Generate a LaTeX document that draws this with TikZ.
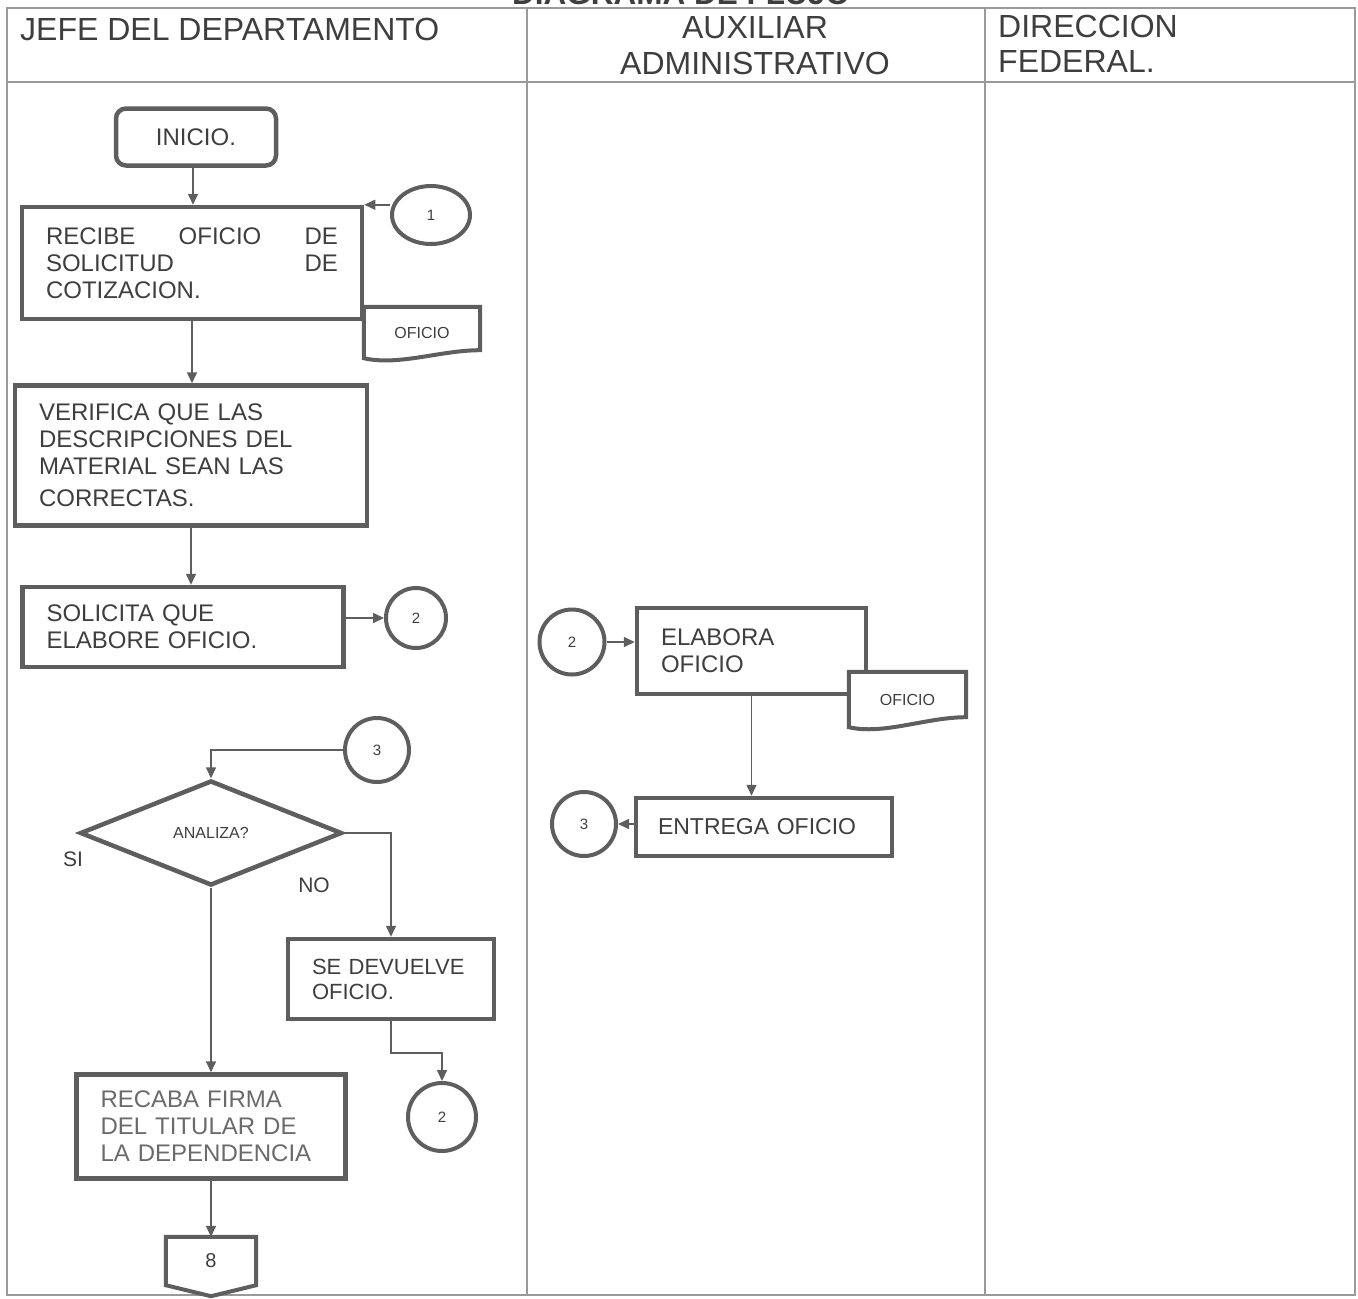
\documentclass[tikz,border=0pt]{standalone}
\usepackage{fontspec}
\setmainfont{Liberation Sans}
\usetikzlibrary{shapes.geometric,arrows.meta,calc}
\pgfdeclarelayer{fg}
\pgfsetlayers{main,fg}
\definecolor{shp}{HTML}{5E5E5E}
\definecolor{txt}{HTML}{3E3E3E}
\definecolor{ltxt}{HTML}{6A6A6A}
\definecolor{frm}{HTML}{9A9A9A}
\newcommand{\fsz}[2]{\fontsize{#1}{#2}\selectfont\hyphenpenalty=10000\exhyphenpenalty=10000 }
\begin{document}
\begin{tikzpicture}[x=1pt,y=-1pt,
  proc/.style={draw=shp, line width=4.5pt, rectangle, align=left, inner xsep=24pt, inner ysep=0pt, text=txt, font=\fsz{24}{27}},
  conn/.style={draw=shp, line width=1.6pt, -{Triangle[length=11pt,width=10pt]}},
  circ/.style={draw=shp, line width=4pt, circle, inner sep=0pt, text=txt, font=\fsz{15}{18}},
  docnode/.style={rectangle, inner sep=0pt, text=txt, font=\fsz{16}{18}},
  docline/.style={draw=shp, line width=4pt, fill=white},
  lane/.style={draw=frm, line width=1.6pt},
  hdr/.style={text=txt, font=\fsz{32}{35}, inner sep=0pt, anchor=base},
  lbl/.style={text=txt, font=\fsz{21}{24}, inner sep=0pt},
]
\useasboundingbox (0,0) rectangle (1358,1299);
\clip (0,0) rectangle (1358,1299);

% title (cut off at top, as in the scan)
\node[text=txt, font=\bfseries\fsz{31.5}{34}, inner sep=0pt, anchor=base] (title) at (681,4.5) {DIAGRAMA DE FLUJO};

% lanes
\draw[lane] (7,8) rectangle (1355,1295);
\draw[lane] (7,82) -- (1355,82);
\draw[lane] (527,8) -- (527,1295);
\draw[lane] (985,8) -- (985,1295);

% headers
\node[hdr, anchor=base west] (h1) at (20,40) {JEFE DEL DEPARTAMENTO};
\node[hdr] (h2a) at (755,38) {AUXILIAR};
\node[hdr] (h2b) at (755,74) {ADMINISTRATIVO};
\node[hdr, anchor=base west] (h3a) at (998,37) {DIRECCION};
\node[hdr, anchor=base west] (h3b) at (998,72) {FEDERAL.};

% lane 1
\node[draw=shp, line width=4.5pt, rounded corners=10pt, minimum width=160, minimum height=57, inner sep=0pt, text=txt, font=\fsz{24}{27}] (inicio) at (196,137) {INICIO.};

\node[proc, text width=292pt, minimum height=112] (recibe) at (192,263)
  {RECIBE\hfill OFICIO\hfill DE\\SOLICITUD\hfill DE\\COTIZACION.};

\node[circ, ellipse, minimum width=78, minimum height=58] (c1) at (431,215) {1};

\node[proc, text width=304pt, minimum height=140] (verifica) at (191,455.5)
  {VERIFICA QUE LAS\\DESCRIPCIONES DEL\\MATERIAL SEAN LAS\\[5pt]CORRECTAS.};

\node[proc, text width=273pt, minimum height=80] (solicita) at (183,627)
  {SOLICITA QUE\\ELABORE OFICIO.};

\node[circ, minimum size=60] (c2a) at (416,618) {2};
\node[circ, minimum size=64] (c3a) at (377,750) {3};

\node[draw=shp, line width=4.5pt, diamond, aspect=2.5, minimum width=262, minimum height=105, inner sep=0pt, text=txt, font=\fsz{16}{18}] (dia) at (211,833) {ANALIZA?};

\node[lbl] (si) at (73,859) {SI};
\node[lbl] (no) at (314,885) {NO};

\node[proc, text width=158pt, minimum height=80, font=\fsz{22}{25}] (devuelve) at (391,979)
  {SE DEVUELVE\\OFICIO.};

\node[circ, minimum size=68] (c2c) at (442,1117) {2};

\node[proc, text width=221pt, minimum height=104, text=ltxt] (recaba) at (211,1126.5)
  {RECABA FIRMA\\DEL TITULAR DE\\LA DEPENDENCIA};

\node[rectangle, inner sep=0pt, minimum width=90, minimum height=48, text=txt, font=\fsz{20}{22}] (off8) at (211,1261) {8};
\draw[draw=shp, line width=4pt] (off8.north west) -- (off8.north east) -- (off8.south east) -- ($(off8.south)+(0,11)$) -- (off8.south west) -- cycle;

% lane 2
\node[circ, minimum size=65] (c2b) at (572,642) {2};
\node[proc, text width=181pt, minimum height=86] (elabora) at (751.5,651)
  {ELABORA\\OFICIO};
\node[proc, inner xsep=22pt, text width=212pt, minimum height=58, font=\fsz{23}{26}] (entrega) at (764,827)
  {ENTREGA OFICIO};
\node[circ, minimum size=64] (c3b) at (584,824) {3};

% documents
\begin{pgfonlayer}{fg}
\node[docnode, minimum width=116, minimum height=51] (doc1) at (422,332.5) {OFICIO};
\node[docnode, minimum width=117, minimum height=55] (doc2) at (907.5,699.5) {OFICIO};
\end{pgfonlayer}
\draw[docline] (doc1.north west) -- (doc1.north east) -- ($(doc1.south east)+(0,-8)$)
  .. controls +(-40,0) and +(35,8) .. (doc1.south west) -- cycle;
\draw[docline] (doc2.north west) -- (doc2.north east) -- ($(doc2.south east)+(0,-10)$)
  .. controls +(-40,0) and +(35,8) .. (doc2.south west) -- cycle;

% connectors
\draw[conn] ($(inicio.south -| recibe.north)+(1,0)$) -- ($(recibe.north)+(1,0)$);
\draw[conn] (c1.west |- recibe.north east) -- (recibe.north east);
\draw[conn] (recibe.south) -- (recibe.south |- verifica.north);
\draw[conn] (verifica.south) -- (verifica.south |- solicita.north);
\draw[conn] (c2a.west -| solicita.east) -- (c2a.west);
\draw[conn] (c3a.west) -| (dia.north);
\draw[conn] (dia.east) -| (devuelve.north);
\draw[conn] (devuelve.south) -- ++(0,32) -| (c2c.north);
\draw[conn] (dia.south) -- (recaba.north);
\draw[conn] (recaba.south) -- (off8.north);
\draw[conn] (c2b.east) -- (c2b.east -| elabora.west);
\draw[conn] (elabora.south) -- (elabora.south |- entrega.north);
\draw[conn] (entrega.west |- c3b.east) -- (c3b.east);
\end{tikzpicture}
\end{document}
